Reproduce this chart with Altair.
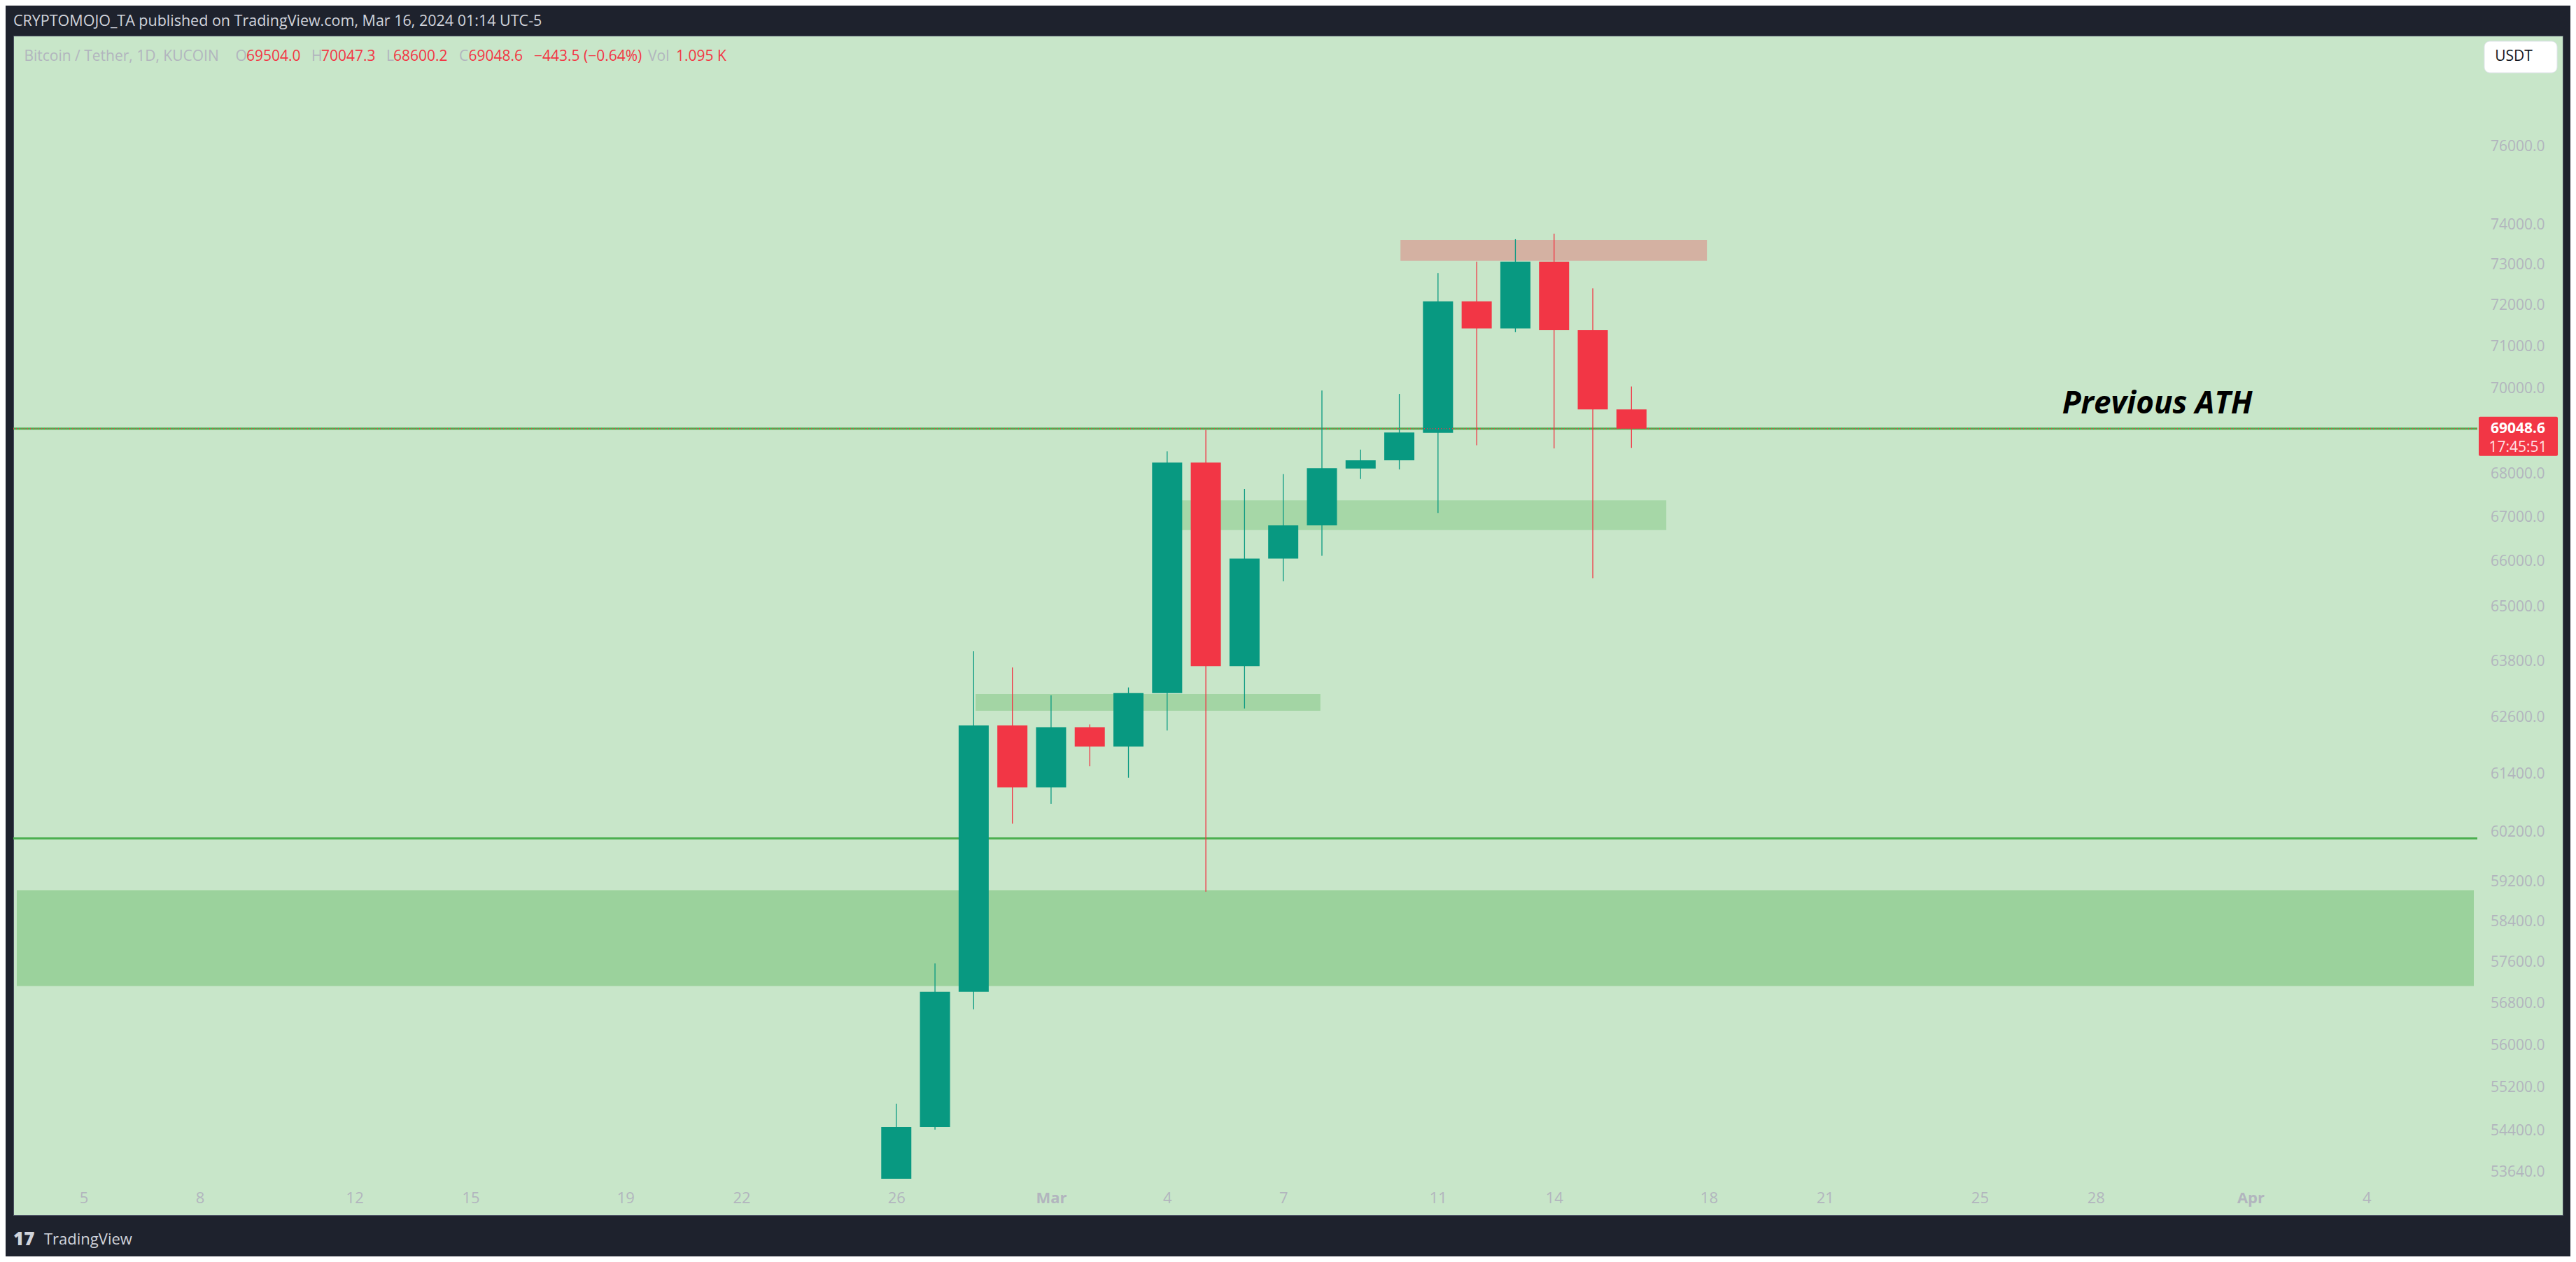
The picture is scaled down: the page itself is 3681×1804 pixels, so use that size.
import altair as alt
import pandas as pd

# ---------------- data ----------------
dates = ["2024-02-26", "2024-02-27", "2024-02-28", "2024-02-29", "2024-03-01",
         "2024-03-02", "2024-03-03", "2024-03-04", "2024-03-05", "2024-03-06",
         "2024-03-07", "2024-03-08", "2024-03-09", "2024-03-10", "2024-03-11",
         "2024-03-12", "2024-03-13", "2024-03-14", "2024-03-15", "2024-03-16"]
opens = [51730, 54470, 57030, 62430, 61130, 62390, 61980, 63120, 68260, 63700,
         66070, 66820, 68120, 68310, 68950, 72100, 71440, 73080, 71400, 69504.0]
highs = [54900, 57580, 64020, 63670, 63070, 62450, 63240, 68520, 69020, 67650,
         67990, 69950, 68560, 69870, 72800, 73080, 73640, 73780, 72420, 70047.3]
lows = [50900, 54420, 56690, 60380, 60790, 61570, 61330, 62320, 59000, 62790,
        65560, 66130, 67880, 68100, 67100, 68660, 71350, 68590, 65630, 68600.2]
closes = [54470, 57030, 62430, 61130, 62390, 61980, 63120, 68260, 63700, 66070,
          66820, 68130, 68310, 68960, 72100, 71440, 73080, 71400, 69504, 69048.6]

# drawn zones (day index: Feb 1 = 1, Mar 1 = 30, Apr 1 = 61)
zone_start = [3.27, 28.05, 33.1, 39.03]
zone_end = [66.77, 36.96, 45.9, 46.95]
zone_low = [57140, 62740, 66710, 73100]
zone_high = [59030, 63100, 67390, 73620]
zone_color = ["#9bd29c", "#a3d5a4", "#a6d7a7", "#d4b1a2"]

level_prices = [69050, 60080]
last_price = 69048.6
last_price_text = "69048.6"
countdown_text = "17:45:51"
ath_label = "Previous ATH"
ath_label_day = 56.13
ath_label_price = 69413

price_ticks = [53640, 54400, 55200, 56000, 56800, 57600, 58400, 59200, 60200,
               61400, 62600, 63800, 65000, 66000, 67000, 68000, 70000, 71000,
               72000, 73000, 74000, 76000]
day_ticks = [5, 8, 12, 15, 19, 22, 26, 30, 33, 36, 40, 43, 47, 50, 54, 57, 61, 64]

header_text = "CRYPTOMOJO_TA published on TradingView.com, Mar 16, 2024 01:14 UTC-5"
legend_texts = ["Bitcoin / Tether, 1D, KUCOIN", "O", "69504.0", "H", "70047.3",
                "L", "68600.2", "C", "69048.6", "\u2212443.5 (\u22120.64%)", "Vol", "1.095 K"]
legend_kinds = ["label", "label", "value", "label", "value", "label", "value",
                "label", "value", "value", "label", "value"]

# ---------------- layout / style ----------------
W, H = 3643, 1686          # green area (plot + axis strips)
PW, PH = 3521, 1634        # candle pane
legend_x = [15.4, 317.6, 333, 426, 440, 533, 543, 637, 650.5, 744, 907, 947]

GREEN = "#089981"
RED = "#f23645"
GREY = "#b2b5be"
FONT = "Open Sans"

df = pd.DataFrame({"date": pd.to_datetime(dates), "open": opens, "high": highs,
                   "low": lows, "close": closes})
df["day"] = (df["date"] - pd.Timestamp("2024-01-31")).dt.days
df["dir"] = ["up" if c >= o else "down" for o, c in zip(opens, closes)]

zones = pd.DataFrame({"x0": zone_start, "x1": zone_end, "lo": zone_low,
                      "hi": zone_high, "color": zone_color})
levels = pd.DataFrame({"price": level_prices})
one = pd.DataFrame({"price": [last_price], "day": [ath_label_day],
                    "annot_price": [ath_label_price]})

xs = alt.Scale(domain=[3.27, 66.77], range=[0, PW], zero=False, nice=False)
ys = alt.Scale(type="log", domain=[53520, 78910], range=[PH, 0], nice=False, clamp=True)

label_expr = ("datum.value == 30 ? 'Mar' : datum.value == 61 ? 'Apr' : "
              "datum.value > 61 ? '' + (datum.value - 60) : "
              "datum.value > 29 ? '' + (datum.value - 29) : '' + datum.value")
xaxis = alt.Axis(values=day_ticks, labelExpr=label_expr, orient="bottom", offset=-(H - PH),
                 labelPadding=34, labelBaseline="alphabetic", tickSize=0, ticks=False,
                 domain=False, grid=False, title=None, labelFont=FONT, labelFontSize=22,
                 labelColor=GREY, labelOverlap=False, labelFlush=False,
                 labelFontWeight={"condition": {"test": "datum.value == 30 || datum.value == 61",
                                                "value": "bold"}, "value": "normal"})
yaxis = alt.Axis(values=price_ticks, format=".1f", orient="right", offset=-(W - PW),
                 labelAlign="right", labelPadding=96, labelBaseline="middle", tickSize=0,
                 ticks=False, domain=False, grid=False, title=None, labelFont=FONT,
                 labelFontSize=21, labelColor=GREY, labelOverlap=False, labelFlush=False)


def X(field, **kw):
    return alt.X(field, scale=xs, axis=xaxis, **kw)


def Y(field, **kw):
    return alt.Y(field, scale=ys, axis=yaxis, **kw)


base = alt.Chart(df)

zone_layer = alt.Chart(zones).mark_rect().encode(
    x=X("x0:Q"), x2="x1:Q", y=Y("lo:Q"), y2="hi:Q",
    color=alt.Color("color:N", scale=None))

level_layer = alt.Chart(levels).mark_rule(color="#4caf50", strokeWidth=3).encode(
    y=Y("price:Q"), x=alt.value(0), x2=alt.value(PW))

dir_color = alt.Color("dir:N", scale=alt.Scale(domain=["up", "down"], range=[GREEN, RED]),
                      legend=None)

wicks = base.mark_rule(strokeWidth=1.3).encode(
    x=X("day:Q"), y=Y("low:Q"), y2="high:Q", color=dir_color)

bodies = base.mark_bar(width=43).encode(
    x=X("day:Q"), y=Y("open:Q"), y2="close:Q", color=dir_color)

price_line = alt.Chart(one).mark_rule(color=RED, strokeWidth=1.5, strokeDash=[1, 3]).encode(
    y=Y("price:Q"), x=alt.value(0), x2=alt.value(PW))

ath_text = alt.Chart(one).mark_text(
    text=ath_label, font=FONT, fontSize=44, fontStyle="italic", fontWeight="bold",
    color="#000000", align="left", baseline="alphabetic").encode(
    x=X("day:Q"), y=Y("annot_price:Q"))

price_box = alt.Chart(one).mark_rect(color=RED, cornerRadius=2, yOffset=-17, y2Offset=39).encode(
    y=Y("price:Q"), y2="price:Q", x=alt.value(PW + 2), x2=alt.value(PW + 115))

price_box_text = alt.Chart(one).mark_text(
    text=last_price_text, font=FONT, fontSize=21, fontWeight="bold", color="#ffffff",
    align="center", baseline="middle").encode(y=Y("price:Q"), x=alt.value(PW + 58))

countdown = alt.Chart(one).mark_text(
    text=countdown_text, font=FONT, fontSize=21, color="#ffe0e3",
    align="center", baseline="middle", dy=27).encode(y=Y("price:Q"), x=alt.value(PW + 58))

usdt_box = alt.Chart(one).mark_rect(color="#ffffff", cornerRadius=8, stroke="#e0e3eb",
                                    strokeWidth=1).encode(
    x=alt.value(3531), x2=alt.value(3635), y=alt.value(8), y2=alt.value(53))
usdt_text = alt.Chart(one).mark_text(
    text="USDT", font=FONT, fontSize=21, color="#131722", align="center",
    baseline="middle").encode(x=alt.value(3573), y=alt.value(30))

header = alt.Chart(one).mark_text(
    text=header_text, font=FONT, fontSize=21.5, color="#d1d4dc", align="left",
    baseline="alphabetic").encode(x=alt.value(0), y=alt.value(-14))

legend_layers = []
for t, k, px in zip(legend_texts, legend_kinds, legend_x):
    legend_layers.append(alt.Chart(one).mark_text(
        text=t, font=FONT, fontSize=21, color=(GREY if k == "label" else RED),
        align="left", baseline="alphabetic").encode(x=alt.value(px), y=alt.value(36)))

logo_mark = alt.Chart(one).mark_text(
    text="17", font=FONT, fontSize=26, fontWeight=800, color="#d1d4dc", align="left",
    baseline="alphabetic").encode(x=alt.value(0), y=alt.value(1729))
logo_text = alt.Chart(one).mark_text(
    text="TradingView", font=FONT, fontSize=22, color="#d1d4dc", align="left",
    baseline="alphabetic").encode(x=alt.value(44), y=alt.value(1728))

chart = alt.layer(
    zone_layer, level_layer, wicks, bodies, price_line, ath_text,
    price_box, price_box_text, countdown, usdt_box, usdt_text, header,
    *legend_layers, logo_mark, logo_text
).properties(
    width=W, height=H, background="#1e222d",
    padding={"left": 11, "top": 43, "right": 11, "bottom": 59},
    autosize=alt.AutoSizeParams(type="none"),
).configure_view(fill="#c8e6c9", stroke="#4a5060", strokeWidth=1)

chart.save("out.html", embed_options={"renderer": "svg", "actions": False})
